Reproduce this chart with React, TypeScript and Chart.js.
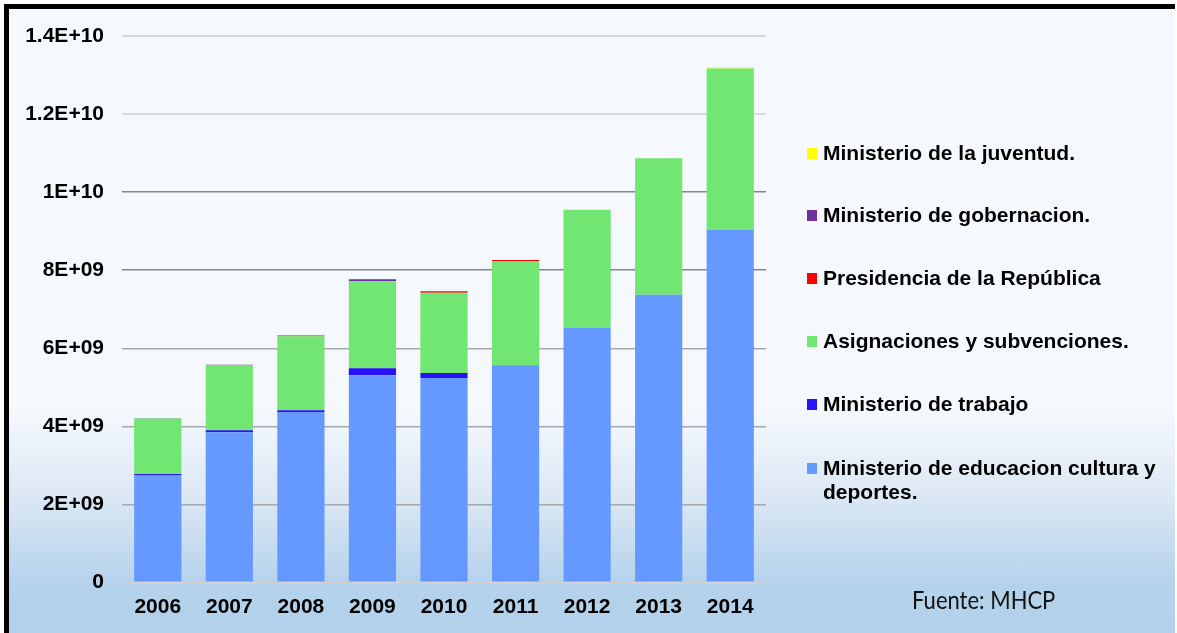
import React, { useEffect, useRef } from "react";
import { Chart, registerables } from "chart.js";

Chart.register(...registerables);

const years = ["2006", "2007", "2008", "2009", "2010", "2011", "2012", "2013", "2014"];
// values in billions (×1e9)
const educacion = [2.74, 3.85, 4.37, 5.31, 5.24, 5.55, 6.52, 7.37, 9.04];
const trabajo = [0.04, 0.05, 0.04, 0.18, 0.13, 0.01, 0, 0, 0];
const asignaciones = [1.42, 1.67, 1.9, 2.23, 2.05, 2.67, 3.03, 3.5, 4.13];
const presidencia = [0, 0, 0.02, 0, 0.04, 0.03, 0, 0, 0];
const gobernacion = [0.01, 0.01, 0, 0.05, 0, 0, 0, 0, 0];
const juventud = [0, 0, 0, 0, 0, 0, 0, 0, 0.03];

const yTickLabels = ["0", "2E+09", "4E+09", "6E+09", "8E+09", "1E+10", "1.2E+10", "1.4E+10"];

const seriesNames = [
  "Ministerio de educacion cultura y deportes.",
  "Ministerio de trabajo",
  "Asignaciones y subvenciones.",
  "Presidencia de la República",
  "Ministerio de gobernacion.",
  "Ministerio de la juventud.",
];
const seriesColors = ["#6699ff", "#2614f2", "#72e673", "#ff0000", "#7030a0", "#ffff00"];
const seriesValues = [educacion, trabajo, asignaciones, presidencia, gobernacion, juventud];

const FONT = '"Liberation Sans", Arial, sans-serif';

export default function App() {
  const canvasRef = useRef<HTMLCanvasElement | null>(null);

  useEffect(() => {
    document.body.style.margin = "0";
    const canvas = canvasRef.current;
    if (!canvas) return;
    const chart = new Chart(canvas, {
      type: "bar",
      data: {
        labels: years,
        datasets: seriesValues.map((vals, i) => ({
          label: seriesNames[i],
          data: vals.map((v) => v * 1e9),
          backgroundColor: seriesColors[i],
          borderWidth: 0,
          categoryPercentage: 1,
          barPercentage: 0.66,
        })),
      },
      options: {
        responsive: false,
        animation: false,
        layout: { padding: { left: 0, right: 411, top: 36, bottom: 0 } },
        plugins: { legend: { display: false }, tooltip: { enabled: false } },
        scales: {
          x: {
            stacked: true,
            grid: { display: false, drawTicks: false },
            border: { display: false },
            ticks: {
              color: "#000",
              font: { family: FONT, size: 21, weight: "bold" },
              padding: 12,
            },
            afterFit: (s: any) => {
              s.height = 50.5;
            },
          },
          y: {
            stacked: true,
            min: 0,
            max: 1.4e10,
            border: { display: false },
            grid: {
              drawTicks: false,
              color: (ctx: any) => {
                const v = ctx.tick ? ctx.tick.value : 0;
                if (v === 0) return "#d0d0d0";
                if (v >= 1.2e10) return "#d9d9d9";
                if (v >= 8e9) return "#858585";
                return "#a8a8a8";
              },
              lineWidth: (ctx: any) => {
                const v = ctx.tick ? ctx.tick.value : 0;
                if (v === 0 || v >= 1.2e10) return 2;
                return 1.5;
              },
            },
            ticks: {
              stepSize: 2e9,
              color: "#000",
              padding: 18,
              font: { family: FONT, size: 21, weight: "bold" },
              callback: (_v: any, idx: number) => yTickLabels[idx],
            },
            afterFit: (s: any) => {
              s.width = 122;
            },
          },
        },
      },
    });
    return () => chart.destroy();
  }, []);

  const legendRows = [5, 4, 3, 2, 1, 0];
  const rowY = [153, 215, 278, 341, 404, 468];

  return (
    <div
      style={{
        position: "absolute",
        left: 0,
        top: 0,
        width: 1177,
        height: 633,
        background: "#ffffff",
        overflow: "hidden",
      }}
    >
      <div
        style={{
          position: "absolute",
          left: 4,
          top: 4,
          width: 1171,
          height: 629,
          background:
            "linear-gradient(to bottom, #f5f9fd 0%, #f5f9fd 64%, #dce8f5 78%, #b5d2eb 92%, #b3d1ea 100%)",
          borderLeft: "5px solid #000",
          borderTop: "5px solid #000",
          boxSizing: "border-box",
        }}
      />
      <canvas
        ref={canvasRef}
        width={1177}
        height={633}
        style={{ position: "absolute", left: 0, top: 0, width: 1177, height: 633 }}
      />
      {legendRows.map((si, r) => {
        const name = seriesNames[si];
        const isLong = si === 0;
        return (
          <div key={si}>
            <div
              style={{
                position: "absolute",
                left: 807,
                top: rowY[r] - 5,
                width: 10,
                height: 11,
                background: seriesColors[si],
              }}
            />
            <div
              style={{
                position: "absolute",
                left: 823,
                top: rowY[r] - 12,
                fontFamily: FONT,
                fontWeight: "bold",
                fontSize: 21,
                lineHeight: "24px",
                color: "#000",
                whiteSpace: "nowrap",
              }}
            >
              {isLong ? (
                <>
                  {"Ministerio de educacion cultura y"}
                  <br />
                  {"deportes."}
                </>
              ) : (
                name
              )}
            </div>
          </div>
        );
      })}
      <div
        style={{
          position: "absolute",
          left: 912,
          top: 583,
          fontFamily: "Lato, 'Open Sans', sans-serif",
          fontSize: 25,
          lineHeight: "32px",
          color: "#111",
          whiteSpace: "nowrap",
          transform: "scaleX(0.88)",
          transformOrigin: "left center",
        }}
      >
        Fuente: MHCP
      </div>
    </div>
  );
}
